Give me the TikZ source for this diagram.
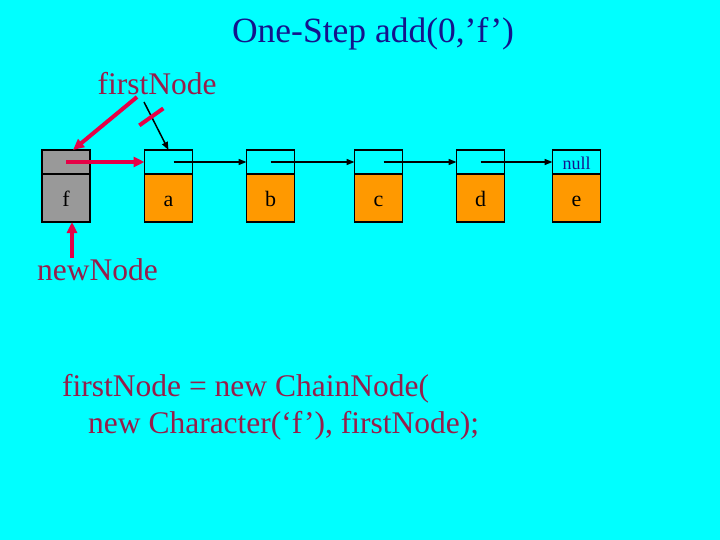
\documentclass[tikz,border=0pt]{standalone}
\usepackage{fontspec}
\setmainfont{Liberation Serif}
\usetikzlibrary{arrows.meta,positioning}
\definecolor{slidebg}{RGB}{0,255,255}
\definecolor{titleblue}{RGB}{20,20,140}
\definecolor{labelred}{RGB}{150,30,75}
\definecolor{ptrred}{RGB}{230,0,70}
\definecolor{databox}{RGB}{255,153,0}
\definecolor{newbox}{RGB}{153,153,153}

\begin{document}
\begin{tikzpicture}[
  x=1pt, y=-1pt,
  lnk/.style={rectangle, draw=black, line width=1.6pt, fill=slidebg,
              minimum width=48pt, minimum height=24pt, inner sep=0pt, outer sep=0pt},
  dat/.style={lnk, fill=databox, minimum height=48pt, text height=17pt, text depth=0pt,
              font=\fontsize{22}{24}\selectfont},
  newdat/.style={dat, fill=newbox},
  lbl/.style={text=labelred, inner sep=0pt, font=\fontsize{31.5}{37}\selectfont},
  arr/.style={-{Triangle[length=8pt,width=6pt]}, line width=1.5pt},
  redarr/.style={-{Triangle[length=11pt,width=10pt]}, line width=4pt, draw=ptrred}
]
\fill[slidebg] (0,0) rectangle (720,540);

\node[text=titleblue, inner sep=0pt, anchor=base, font=\fontsize{35.5}{40}\selectfont]
  (title) at (373,43) {One-Step add(0,’f’)};

% the chain
\node[lnk, fill=newbox] (fl) at (66,162) {};
\node[newdat, below=0pt of fl] (fd) {f};
\node[lnk] (al) at (168.5,162) {};
\node[dat, below=0pt of al] (ad) {a};
\node[lnk] (bl) at (270.5,162) {};
\node[dat, below=0pt of bl] (bd) {b};
\node[lnk] (cl) at (378.5,162) {};
\node[dat, below=0pt of cl] (cd) {c};
\node[lnk] (dl) at (480.5,162) {};
\node[dat, below=0pt of dl] (dd) {d};
\node[lnk, text=titleblue, text height=16pt, text depth=0pt,
      font=\fontsize{18}{18}\selectfont] (el) at (576.5,162) {null};
\node[dat, below=0pt of el] (ed) {e};

\draw[arr] ([xshift=5pt]al.center) -- (bl.west);
\draw[arr] (bl.center) -- (cl.west);
\draw[arr] ([xshift=5pt]cl.center) -- (dl.west);
\draw[arr] (dl.center) -- (el.west);
\draw[redarr] (fl.center) -- (al.west);

% pointers
\node[lbl, anchor=base] (first) at (157,95) {firstNode};
\draw[redarr] ([xshift=-20pt,yshift=-2pt]first.base) -- ([xshift=7pt]fl.north);
\draw[arr] ([xshift=-13pt,yshift=-7pt]first.base) -- coordinate[pos=0.3] (cut) (al.north);
\draw[ptrred, line width=4pt] ([shift={(-12pt,-9pt)}]cut) -- ([shift={(12pt,8pt)}]cut);

\node[lbl, anchor=base west] (new) at (37,280) {newNode};
\draw[redarr] ([xshift=35pt,yshift=22pt]new.base west) -- ([xshift=6pt]fd.south);

\node[lbl, anchor=north west, align=left] (code) at (62,374)
  {firstNode = new ChainNode(\\\hspace*{26pt}new Character(‘f’), firstNode);};
\end{tikzpicture}
\end{document}
